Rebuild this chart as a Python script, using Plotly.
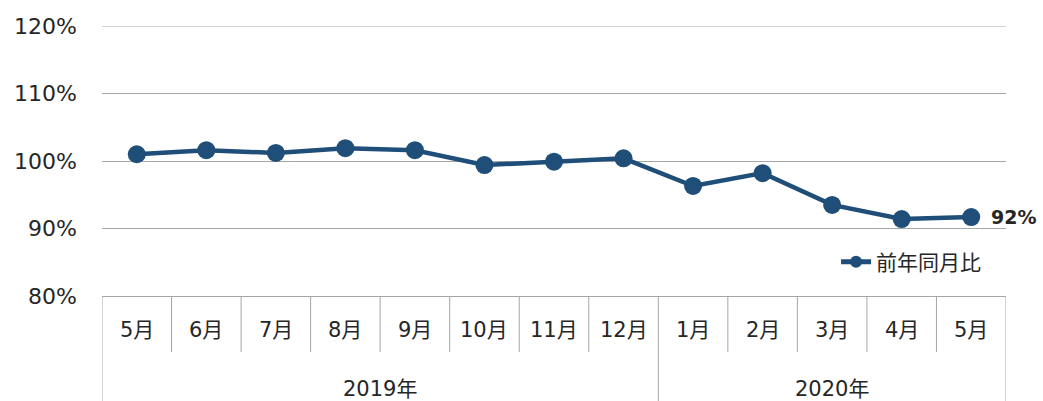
import plotly.graph_objects as go

months = ["5月", "6月", "7月", "8月", "9月", "10月", "11月", "12月",
          "1月", "2月", "3月", "4月", "5月"]
years = ["2019年", "2020年"]
year_counts = [8, 5]
values = [101.0, 101.6, 101.2, 101.9, 101.6, 99.4, 99.9, 100.4,
          96.3, 98.2, 93.5, 91.4, 91.7]
y_ticks = [80, 90, 100, 110, 120]
y_ticktext = ["80%", "90%", "100%", "110%", "120%"]
series_name = "前年同月比"
end_label = "92%"

W, H = 1043, 401
L, R, T, B = 102, 37, 26, 105
plot_h = H - T - B

line_color = "#1F4E79"
grid_color = "#A6A6A6"
text_color = "#262626"
FONT = "DejaVu Sans, Noto Sans CJK JP, sans-serif"

x = list(range(len(months)))

fig = go.Figure()
fig.add_trace(go.Scatter(
    x=x, y=values, mode="lines+markers", name=series_name,
    line=dict(color=line_color, width=4.5),
    marker=dict(color=line_color, size=18),
    cliponaxis=False,
))

shapes = []
# top gridline (120%)
shapes.append(dict(type="line", xref="paper", yref="y", x0=0, x1=1,
                   y0=y_ticks[-1], y1=y_ticks[-1],
                   line=dict(color=grid_color, width=1)))
# vertical separators of the category table
month_sep_y = -(352 - 296) / plot_h
bottom_y = -B / plot_h
boundaries = set()
acc = 0
for c in year_counts:
    boundaries.add(acc - 0.5)
    acc += c
boundaries.add(acc - 0.5)
for k in range(len(months) + 1):
    xb = k - 0.5
    y1 = bottom_y if xb in boundaries else month_sep_y
    shapes.append(dict(type="line", xref="x", yref="paper", x0=xb, x1=xb,
                       y0=0, y1=y1, line=dict(color=grid_color, width=1)))

annotations = []
for i, m in enumerate(months):
    annotations.append(dict(x=i, y=-(330 - 296) / plot_h, xref="x", yref="paper",
                            text=m, showarrow=False, yanchor="middle",
                            font=dict(size=21, color=text_color, family=FONT)))
acc = 0
for yname, c in zip(years, year_counts):
    center = acc + (c - 1) / 2
    annotations.append(dict(x=center, y=-(389 - 296) / plot_h, xref="x", yref="paper",
                            text=yname, showarrow=False, yanchor="middle",
                            font=dict(size=21, color=text_color, family=FONT)))
    acc += c
annotations.append(dict(x=x[-1], y=values[-1], xref="x", yref="y",
                        text="<b>" + end_label + "</b>", showarrow=False,
                        xanchor="left", yanchor="middle", xshift=18,
                        font=dict(size=19, color=text_color, family=FONT)))

fig.update_layout(
    width=W, height=H,
    margin=dict(l=L, r=R, t=T, b=B, autoexpand=False),
    paper_bgcolor="white", plot_bgcolor="white",
    showlegend=True,
    legend=dict(x=0.812, y=(296 - 262) / plot_h, xanchor="left", yanchor="middle",
                font=dict(size=21, color=text_color, family=FONT),
                itemsizing="constant", itemwidth=30,
                bgcolor="rgba(0,0,0,0)"),
    xaxis=dict(range=[-0.5, len(months) - 0.5], showgrid=False, zeroline=False,
               showticklabels=False, ticks="", showline=True,
               linecolor=grid_color, linewidth=1, fixedrange=True),
    yaxis=dict(range=[80, 120], tickvals=y_ticks, ticktext=y_ticktext,
               showgrid=True, gridcolor=grid_color, gridwidth=1, zeroline=False,
               showline=False, ticks="", ticklabelstandoff=24,
               tickfont=dict(size=22, color=text_color, family=FONT)),
    shapes=shapes,
    annotations=annotations,
)

fig.write_html("out.html", config={"displayModeBar": False},
               post_script="document.body.style.margin='0';document.body.style.overflow='hidden';")
